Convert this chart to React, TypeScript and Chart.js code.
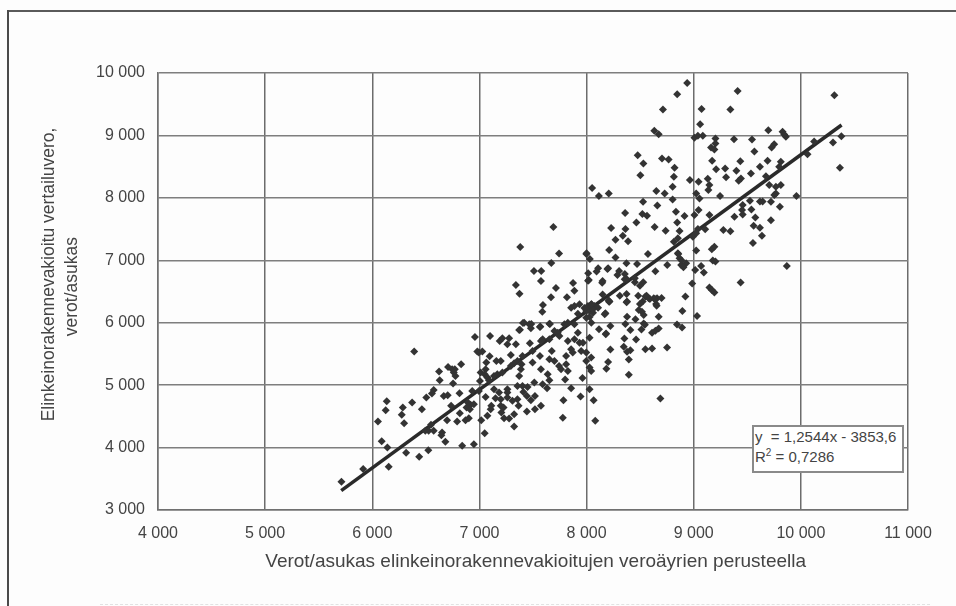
import React, { useEffect, useRef } from "react";
import { Chart, registerables } from "chart.js";

Chart.register(...registerables);

const lowerPoints: number[][] = [
  [5712,3453],[5915,3656],[6153,3693],[6088,4103],[6141,4002],[6316,3917],[6438,3853],[6523,3959],
  [6053,4418],[6125,4599],[6135,4743],[6285,4642],[6275,4524],[6297,4391],[6372,4722],[6391,5537],
  [6463,4615],[6504,4802],[6573,4924],[6557,4866],[6623,5217],[6629,5079],[6707,5292],[6745,5255],
  [6761,5201],[6770,5255],[6776,5148],[6829,5335],[6754,5025],[6667,4828],[6704,4839],[6814,4871],
  [6736,4668],[6817,4551],[6892,4722],[6917,4684],[6948,4695],[6880,4642],[6911,4615],[6698,4439],
  [6792,4418],[6870,4439],[6901,4471],[6548,4364],[6526,4269],[6573,4269],[6495,4269],[6651,4242],
  [6645,4199],[6682,4093],[6839,4029],[6948,4055],[7049,4231],[7017,4439],[7074,4508],[7111,4668],
  [7105,4615],[6933,4908],[6958,5772],[7099,5788],[7189,5708],[7214,5750],[7277,5750],[7261,5654],
  [7340,5654],[6995,5521],[7027,5537],[6980,5537],[7095,5462],[7158,5388],[7199,5388],[7064,5361],
  [7058,5255],[7011,5201],[7049,5175],[7074,5121],[7089,5079],[7167,5175],[7214,5201],[7136,5148],
  [7293,5484],[7324,5350],[7293,5308],[7471,5670],[7261,4935],[7261,4882],[7136,4935],[7183,4882],
  [7199,4775],[7199,4668],[7205,4562],[7230,4471],[7277,4466],[7324,4535],[7324,4338],[7355,4775],
  [7365,4668],[7443,4578],[7518,4615],[7574,4668],[7518,4828],[7443,4828],[7355,4988],[7402,4988],
  [7449,4972],[7512,5041],[7590,5015],[7631,4951],[7058,4812],[6995,4908],[7005,5068],[7261,4802],
  [7308,4748],[7355,5388],[7402,5467],[7496,5548],[7574,5708],[7700,5868],[7825,6001],[7919,5841],
  [8044,6001],[7150,4790],[7225,4640],[7410,4890],[7480,4760],
];

const middlePoints: number[][] = [
  [7371,5884],[7418,6001],[7465,5974],[7480,5910],[7565,5931],[7653,5985],[7731,5841],[7746,5788],
  [7590,5734],[7653,5734],[7825,5708],[7887,5734],[7934,5681],[7966,5681],[8028,5761],[7675,5548],
  [7653,5414],[7700,5388],[7565,5467],[7496,5361],[7393,5335],[7387,5255],[7371,5148],[7574,5255],
  [7637,5175],[7653,5079],[7743,5308],[7809,5335],[7825,5228],[7762,5255],[7856,5575],[7871,5521],
  [7950,5548],[7997,5521],[8043,5441],[7809,5467],[7997,5388],[8028,5281],[8043,5228],[7800,5089],
  [7962,5116],[7856,4951],[7944,4818],[8028,4935],[7784,4759],[7778,4476],[8066,4759],[8081,4428],
  [8222,5570],[8185,5264],[8201,5372],[8394,5409],[8394,5168],[8549,5576],[8611,5587],[8751,5603],
  [8462,5731],[8353,5748],[8347,5613],[8409,5560],[8378,5533],[8182,5828],[8222,5946],[8362,5979],
  [8409,5882],[8512,5893],[8611,5839],[8642,5871],[8673,5909],[8844,5973],[8891,5925],[9031,6107],
  [8894,6188],[8922,6419],[8378,6097],[8456,6054],[8533,5989],[8673,6097],[8487,6204],[8533,6123],
  [8517,6177],[8378,6338],[8214,6338],[8176,6150],[8549,6419],[8580,6392],[8627,6392],[8658,6392],
  [8649,6301],[8524,6338],[8689,4786],[8116,5894],[8179,5814],[7887,5974],[7793,5974],[7406,5995],
  [7484,5979],[7378,5888],[7568,5941],[7658,5979],[8169,6134],[8210,6336],[7997,6081],[8028,6091],
  [7919,6145],[7856,6240],[7887,6267],[7934,6294],[8013,6267],[8044,6294],[8075,6267],[8107,6240],
  [8028,6187],[8060,6160],[7997,6187],[8025,6230],[7980,6235],[8060,6215],[7593,6284],[7587,6177],
  [7671,6958],[7509,6829],[7577,6829],[7574,6669],[7340,6605],[7374,6465],[7714,6556],[7668,6407],
  [7817,6407],[7874,6637],[7886,6514],[7381,7214],[7690,7535],[7743,7107],
  [8357,6781],[8373,6701],[8451,6647],[8529,6647],[8498,6594],[8310,6433],[8373,6460],[8373,6326],
  [8482,6433],[8498,6300],[8560,6433],[8591,6380],[8638,6380],[8700,6396],[8654,6273],[8544,5968],
  [8046,6296],[8146,6640],[8207,6355],[8150,6450],
];

const upperPoints: number[][] = [
  [8939,9841],[8846,9660],[9410,9713],[10313,9644],[8713,9414],[9073,9425],[9342,9414],[9060,9180],
  [8632,9073],[8673,9020],[9696,9084],[9829,9057],[9860,8977],[9845,9015],[9007,8961],[9039,8993],[9085,8993],
  [9203,8951],[9203,8871],[9376,8940],[9544,8935],[9751,8860],[9727,8807],[9162,8807],[9193,8775],
  [9566,8743],[10124,8903],[10300,8887],[10378,8988],[10365,8482],[10062,8700],[8477,8684],[8530,8551],
  [8502,8364],[8704,8631],[8766,8615],[8821,8482],[8815,8338],[8964,8285],[9045,8258],[9131,8306],
  [9146,8205],[9137,8125],[8803,8178],[9172,8594],[9209,8460],[9293,8471],[9302,8332],[9398,8434],
  [9441,8311],[9420,8274],[9435,8588],[9534,8391],[9618,8497],[9689,8594],[9813,8577],[9798,8497],
  [9674,8348],[9705,8205],[9767,8178],[9813,8205],[8052,8157],[8115,8029],[8207,8071],[8651,8108],
  [8729,8071],[8803,7975],[8527,7938],[8660,7879],[8360,7757],[8521,7741],[8564,7714],[8465,7607],
  [8229,7517],[8363,7501],[8338,7394],[8270,7330],[8387,7304],[8635,7533],[8738,7474],[8846,7607],
  [8834,7778],[8914,7709],[9007,7725],[9045,7805],[9023,8071],[9054,7991],[9246,8029],[9147,7725],
  [9380,7698],[9457,7885],[9451,7805],[9457,7735],[9525,7954],[9618,7943],[9643,7943],[9721,7938],
  [9752,8045],[9767,8071],[9959,8029],[9804,7858],[9538,7815],[9575,7687],[9721,7640],[9559,7554],
  [9618,7522],[9637,7394],[9553,7277],[9277,7485],[9342,7464],[9107,7496],[9039,7501],[8992,7378],
  [9023,7432],[8868,7469],[8815,7298],[8852,7352],[9023,7155],[9193,7218],[9169,7176],[9178,6995],
  [9203,6979],[8573,7101],[8211,7165],[8000,7112],[8270,7043],[8852,7112],[8868,7032],[8883,6925],
  [8930,6952],[8753,6925],[8372,6952],[8471,6941],[8108,6872],[8093,6819],[8201,6872],[8015,6792],
  [8021,6686],[8149,6670],[8304,6829],[8288,6765],[8356,6696],[8450,6712],[8642,6824],[9014,6845],
  [9069,6909],[9094,6803],[8986,6627],[9438,6643],[9869,6909],[9147,6563],[9193,6483],[9169,6526],
  [8856,7102],[8888,6995],[8904,6888],[7998,7102],[8030,7022],[8195,6861],[8014,6674],
];

const trendX = [5710, 10380];
const trendY = [3309, 9167];
const xTitle = "\u00a0Verot/asukas elinkeinorakennevakioitujen veroäyrien perusteella";
const yTitle = ["\u00a0\u00a0\u00a0\u00a0\u00a0\u00a0\u00a0Elinkeinorakennevakioitu vertailuvero,", "\u00a0\u00a0verot/asukas"];

const fmt = (v: string | number) => {
  const n = Number(v);
  const th = Math.floor(n / 1000);
  return `${th} ${String(n % 1000).padStart(3, "0")}`;
};

export default function App() {
  const ref = useRef<HTMLCanvasElement>(null);
  useEffect(() => {
    document.body.style.margin = "0";
    const family = "'Liberation Sans', Arial, sans-serif";
    const chart = new Chart(ref.current!, {
      data: {
        datasets: [
          {
            type: "scatter",
            data: [...lowerPoints, ...middlePoints, ...upperPoints].map(([x, y]) => ({ x, y })),
            pointStyle: "rectRot",
            pointRadius: 4,
            backgroundColor: "#333333",
            borderColor: "#333333",
            borderWidth: 0,
          },
          {
            type: "line",
            data: trendX.map((x, i) => ({ x, y: trendY[i] })),
            borderColor: "#2a2a2a",
            borderWidth: 3.5,
            pointRadius: 0,
            fill: false,
          },
        ],
      } as any,
      options: {
        animation: false,
        responsive: false,
        layout: { padding: { top: 73, right: 48, left: 0, bottom: 0 } },
        plugins: { legend: { display: false }, tooltip: { enabled: false } },
        scales: {
          x: {
            type: "linear",
            min: 4000,
            max: 11000,
            afterFit: (s: any) => { s.height = 96; },
            ticks: { stepSize: 1000, callback: fmt, padding: 14, color: "#444444", maxRotation: 0, font: { family, size: 16 } },
            grid: { color: "#6c6c6c", lineWidth: 1.5, drawTicks: false },
            border: { color: "#707070", width: 1.5 },
            title: { display: true, text: xTitle, color: "#444444", font: { family, size: 19 }, padding: { top: 9, bottom: 33 } },
          },
          y: {
            type: "linear",
            min: 3000,
            max: 10000,
            afterFit: (s: any) => { s.width = 158; },
            ticks: { stepSize: 1000, callback: fmt, padding: 13, color: "#444444", font: { family, size: 16 } },
            grid: { color: "#7e7e7e", lineWidth: 1.5, drawTicks: false },
            border: { color: "#707070", width: 1.5 },
            title: { display: true, text: yTitle, color: "#444444", font: { family, size: 17.5, lineHeight: 1.3 }, padding: { top: 38, bottom: 0 } },
          },
        },
      },
    });
    return () => chart.destroy();
  }, []);

  return (
    <div style={{ position: "absolute", left: 0, top: 0, width: 956, height: 606, background: "#fdfdfd", overflow: "hidden" }}>
      <canvas ref={ref} width={956} height={606} style={{ position: "absolute", left: 0, top: 0, display: "block" }} />
      <div style={{ position: "absolute", left: 7, top: 10, width: 960, height: 2, background: "#5a5a5a" }} />
      <div style={{ position: "absolute", left: 7, top: 10, width: 2, height: 600, background: "#4a4a4a" }} />
      <div style={{ position: "absolute", left: 100, top: 604, width: 830, height: 0, borderTop: "1px dashed #e2e2e2" }} />
      <div
        style={{
          position: "absolute", left: 752, top: 425, width: 147, height: 44,
          background: "#ffffff", border: "2px solid #8a8a8a", color: "#444444",
          fontFamily: "'Liberation Sans', Arial, sans-serif", fontSize: 15, lineHeight: "20px", paddingLeft: 1,
          boxSizing: "content-box", whiteSpace: "pre",
        }}
      >
        <div>{"y  = 1,2544x - 3853,6"}</div>
        <div>R<sup style={{ fontSize: 10, lineHeight: 0 }}>2</sup> = 0,7286</div>
      </div>
    </div>
  );
}
